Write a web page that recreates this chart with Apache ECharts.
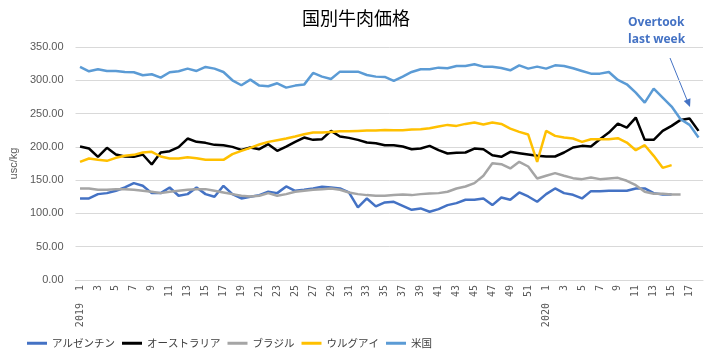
<!DOCTYPE html>
<html>
<head>
<meta charset="utf-8">
<script src="https://cdn.jsdelivr.net/npm/echarts@6/dist/echarts.min.js"></script>
<style>html,body{margin:0;padding:0;background:#fff}#c{width:712px;height:358px}</style>
</head>
<body>
<div id="c"></div>
<script>
var weekLabels = [
 '2019  1','2','3','4','5','6','7','8','9','10','11','12','13','14','15','16','17','18','19','20',
 '21','22','23','24','25','26','27','28','29','30','31','32','33','34','35','36','37','38','39','40',
 '41','42','43','44','45','46','47','48','49','50','51','52',
 '2020  1','2','3','4','5','6','7','8','9','10','11','12','13','14','15','16','17','18'
];
var argentina = [
 122.5,122.5,129,130.5,134,139,145.5,141.5,130.5,130.5,
 139,126.5,129,139,129,125,141.5,129,122.5,125,
 127.5,132.5,130.5,140.5,134,135.5,137.5,140,139,137.5,
 131.5,109,122.5,110.5,116.5,117.5,111.5,105.5,107.5,102.5,
 106.5,112.5,115.5,120.5,120.5,122.5,112.5,124,120.5,131.5,
 125.5,117.5,129,137.5,130.5,128,122.5,133.5,133.5,134,
 134,134,137.5,137.5,130.5,128.5,128.5,null,null,null
];
var australia = [
 200.5,197.5,185,198.5,188.5,185.5,185,188.5,173.5,191.5,
 193.5,199.5,212.5,207.5,206,203,202.5,200,195.5,199,
 196.5,204,194,200.5,207.5,214,210.5,211.5,224,215.5,
 213.5,210.5,206.5,205.5,202.5,202.5,200.5,196.5,197.5,201.5,
 195,190,191,191.5,197.5,196.5,187.5,185,192.5,190.5,
 188.5,186.5,185.5,185.5,191.5,199,201.5,200.5,211.5,221.5,
 235,229,244,210.5,210.5,224,231.5,240.5,242.5,224
];
var brazil = [
 137.5,137.5,135.5,135.5,136.5,136.5,135.5,134,132.5,130.5,
 132.5,134,135.5,136.5,136.5,134,131.5,129,126.5,125.5,
 126.5,130.5,126.5,129,132.5,134,135.5,136.5,137.5,135.5,
 131.5,129,127.5,126.5,126.5,127.5,128.5,127.5,129,130,
 130.5,132.5,137.5,140.5,145.5,156.5,175.5,174,167.5,177.5,
 170.5,152.5,156.5,160.5,156.5,153,151.5,154,151.5,152.5,
 153.5,149,142.5,132.5,129.5,129.5,128.5,128.5,null,null
];
var uruguay = [
 177.5,182.5,180.5,179,183.5,186.5,188,191.5,192.5,185.5,
 182.5,182.5,184.5,183,180.5,180.5,180.5,189,194,198.5,
 203.5,207.5,210,212.5,215.5,219,221.5,221.5,222.5,223.5,
 223.5,224,224.5,224.5,225.5,225,225,226,226.5,228,
 230.5,233,231.5,234.5,236.5,233.5,236.5,234.5,227.5,222.5,
 218.5,177.5,224,216.5,214,212.5,207.5,211.5,211.5,211.5,
 213,206.5,195,202.5,186.5,168.5,172.5,null,null,null
];
var usa = [
 320,313.5,316.5,314,314,312.5,312,307.5,309,304,
 312,313.5,317.5,314,320,317.5,312.5,300,292.5,301,
 292,291,295.5,289,292,293.5,311,305.5,302,313,
 313,313,308,305.5,305,299,305.5,312.5,316.5,316.5,
 319,318,321.5,321.5,324,320.5,320.5,318.5,315,322.5,
 317.5,320.5,317.5,322.5,321.5,318,314,310,310,312.5,
 300.5,294,281.5,266.5,287.5,274,260.5,241.5,233,214
];
var seriesNames = ['アルゼンチン','オーストラリア','ブラジル','ウルグアイ','米国'];
var seriesColors = ['#4472C4','#000000','#A5A5A5','#FFC000','#5B9BD5'];
var seriesData = [argentina, australia, brazil, uruguay, usa];

var chart = echarts.init(document.getElementById('c'), null, {renderer:'canvas'});
var series = seriesNames.map(function(n, k){
  return {
    name: n, type: 'line', data: seriesData[k], showSymbol: false, symbol: 'none',
    lineStyle: {width: 2.5, color: seriesColors[k]}, itemStyle: {color: seriesColors[k]},
    connectNulls: false, animation: false, z: 2 + k
  };
});
chart.setOption({
  animation: false,
  textStyle: {fontFamily: '"Noto Sans CJK JP", "Liberation Sans", sans-serif'},
  title: {
    text: '国別牛肉価格', left: 'center', top: 4,
    textStyle: {fontSize: 18, fontWeight: 'normal', color: '#000', fontFamily: '"Noto Sans CJK JP", sans-serif'}
  },
  grid: {left: 65, right: 9, top: 47, bottom: 78, containLabel: false},
  legend: {
    left: 22, top: 333, itemWidth: 20, itemHeight: 3, itemGap: 7, icon: 'rect',
    textStyle: {fontSize: 10.5, color: '#404040', fontFamily: '"Noto Sans CJK JP", sans-serif'},
    data: seriesNames
  },
  xAxis: {
    type: 'category', data: weekLabels, boundaryGap: true,
    axisLine: {lineStyle: {color: '#D9D9D9'}},
    axisTick: {show: false},
    axisLabel: {
      interval: 1, rotate: 90, fontSize: 10, color: '#595959', margin: 5,
      fontFamily: '"DejaVu Sans Mono", monospace'
    }
  },
  yAxis: {
    type: 'value', min: 0, max: 350, interval: 50,
    name: 'usc/kg', nameLocation: 'middle', nameGap: 54,
    nameTextStyle: {fontSize: 11, color: '#595959', fontFamily: '"Liberation Sans", sans-serif'},
    axisLine: {show: false}, axisTick: {show: false},
    splitLine: {lineStyle: {color: '#D9D9D9'}},
    axisLabel: {
      fontSize: 11, color: '#595959', margin: 12, fontFamily: '"Liberation Sans", sans-serif',
      formatter: function(v){ return v.toFixed(2); }
    }
  },
  graphic: [
    {type: 'text', left: 628, top: 17, style: {text: 'Overtook', fontSize: 12, fontWeight: 'bold', fill: '#4472C4', fontFamily: '"Open Sans", sans-serif'}},
    {type: 'text', left: 628, top: 34, style: {text: 'last week', fontSize: 12, fontWeight: 'bold', fill: '#4472C4', fontFamily: '"Open Sans", sans-serif'}},
    {type: 'line', shape: {x1: 670, y1: 58, x2: 687, y2: 100}, style: {stroke: '#4472C4', lineWidth: 1}},
    {type: 'polygon', shape: {points: [[690, 107], [690.5, 98.3], [683.8, 100.9]]}, style: {fill: '#4472C4'}}
  ],
  series: series
});
</script>
</body>
</html>
